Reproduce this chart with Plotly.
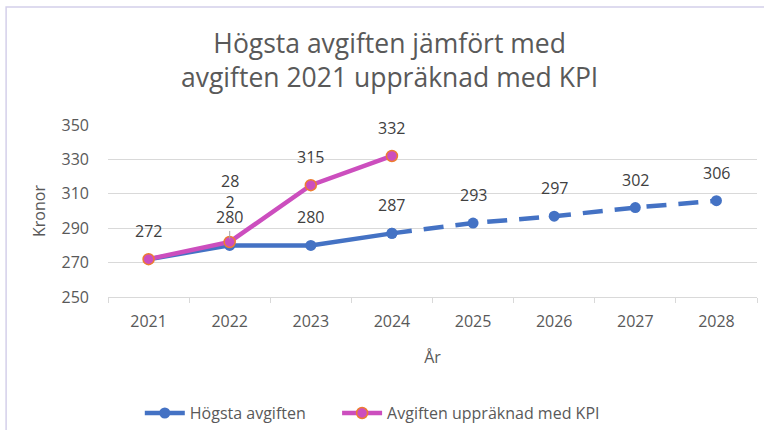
import plotly.graph_objects as go

years = ["2021", "2022", "2023", "2024", "2025", "2026", "2027", "2028"]
hogsta = [272, 280, 280, 287, 293, 297, 302, 306]
kpi_years = ["2021", "2022", "2023", "2024"]
kpi = [272, 282, 315, 332]
y_ticks = [250, 270, 290, 310, 330, 350]

BLUE = "#4472C4"
MAG = "#CC4EBE"
ORANGE = "#ED7D31"
TXT = "#595959"
LBL = "#404040"
FONT = "Open Sans"

fig = go.Figure()
fig.add_trace(go.Scatter(x=years[3:], y=hogsta[3:], mode="lines+markers",
                         line=dict(color=BLUE, width=4.5, dash="20px,12px"),
                         marker=dict(size=11, color=BLUE), showlegend=False))
fig.add_trace(go.Scatter(x=years[:4], y=hogsta[:4], mode="lines+markers",
                         line=dict(color=BLUE, width=4.5),
                         marker=dict(size=11, color=BLUE), name="Högsta avgiften",
                         legend="legend"))
fig.add_trace(go.Scatter(x=kpi_years, y=kpi, mode="lines+markers",
                         line=dict(color=MAG, width=4.5),
                         marker=dict(size=11, color=MAG, line=dict(color=ORANGE, width=1.5)),
                         name="Avgiften uppräknad med KPI", legend="legend2"))

ann = []
for x, v in zip(years, hogsta):
    ann.append(dict(x=years.index(x), y=v, text=str(v), showarrow=False, yshift=28,
                    font=dict(family=FONT, size=16, color=LBL)))
for i, (x, v) in enumerate(zip(kpi_years, kpi)):
    if v == hogsta[years.index(x)]:
        continue  # same label already drawn at the same spot
    if i == 1:
        s = str(v)
        ann.append(dict(x=years.index(x), y=v, text=s[:2] + "<br>" + s[2:], showarrow=True,
                        ax=0, ay=-50, arrowhead=0, arrowwidth=1, arrowcolor="#A6A6A6",
                        standoff=3, startstandoff=16,
                        font=dict(family=FONT, size=16, color=LBL)))
    else:
        ann.append(dict(x=years.index(x), y=v, text=str(v), showarrow=False, yshift=28,
                        font=dict(family=FONT, size=16, color=LBL)))

leg_common = dict(orientation="h", xanchor="left", y=-0.675, yanchor="middle",
                  font=dict(family=FONT, size=16, color=TXT), itemwidth=40,
                  bgcolor="rgba(0,0,0,0)")

fig.update_layout(
    width=764, height=430,
    margin=dict(l=108, r=7, t=125, b=133, autoexpand=False),
    paper_bgcolor="white", plot_bgcolor="white",
    title=dict(text="Högsta avgiften jämfört med<br>avgiften 2021 uppräknad med KPI",
               x=0.51, xanchor="center", yref="container", y=1 - 53 / 430, yanchor="top",
               font=dict(family=FONT, size=26.5, color=TXT)),
    font=dict(family=FONT, color=TXT),
    annotations=ann,
    legend=dict(x=0.049, **leg_common),
    legend2=dict(x=0.353, **leg_common),
    xaxis=dict(type="category", categoryorder="array", categoryarray=years,
               range=[-0.5, 7.5], showgrid=False,
               showline=True, linecolor="#D9D9D9", linewidth=1,
               ticks="outside", tickson="boundaries", ticklen=5, tickcolor="#D9D9D9",
               ticklabelstandoff=10,
               tickfont=dict(family=FONT, size=16, color=TXT),
               title=dict(text="År", font=dict(family=FONT, size=16, color=TXT), standoff=20)),
    yaxis=dict(range=[250, 350], tickvals=y_ticks, showgrid=True, gridcolor="#D9D9D9",
               zeroline=False, ticklabelstandoff=18,
               tickfont=dict(family=FONT, size=16, color=TXT),
               title=dict(text="Kronor", font=dict(family=FONT, size=16, color=TXT), standoff=11)),
    shapes=[dict(type="rect", xref="paper", yref="paper", x0=-0.157, x1=1.2, y0=-2, y1=1.686,
                 line=dict(color="#D4D0EA", width=1.5))],
)
fig.write_html("out.html", config={"displayModeBar": False},
               post_script="document.body.style.margin='0px';")
